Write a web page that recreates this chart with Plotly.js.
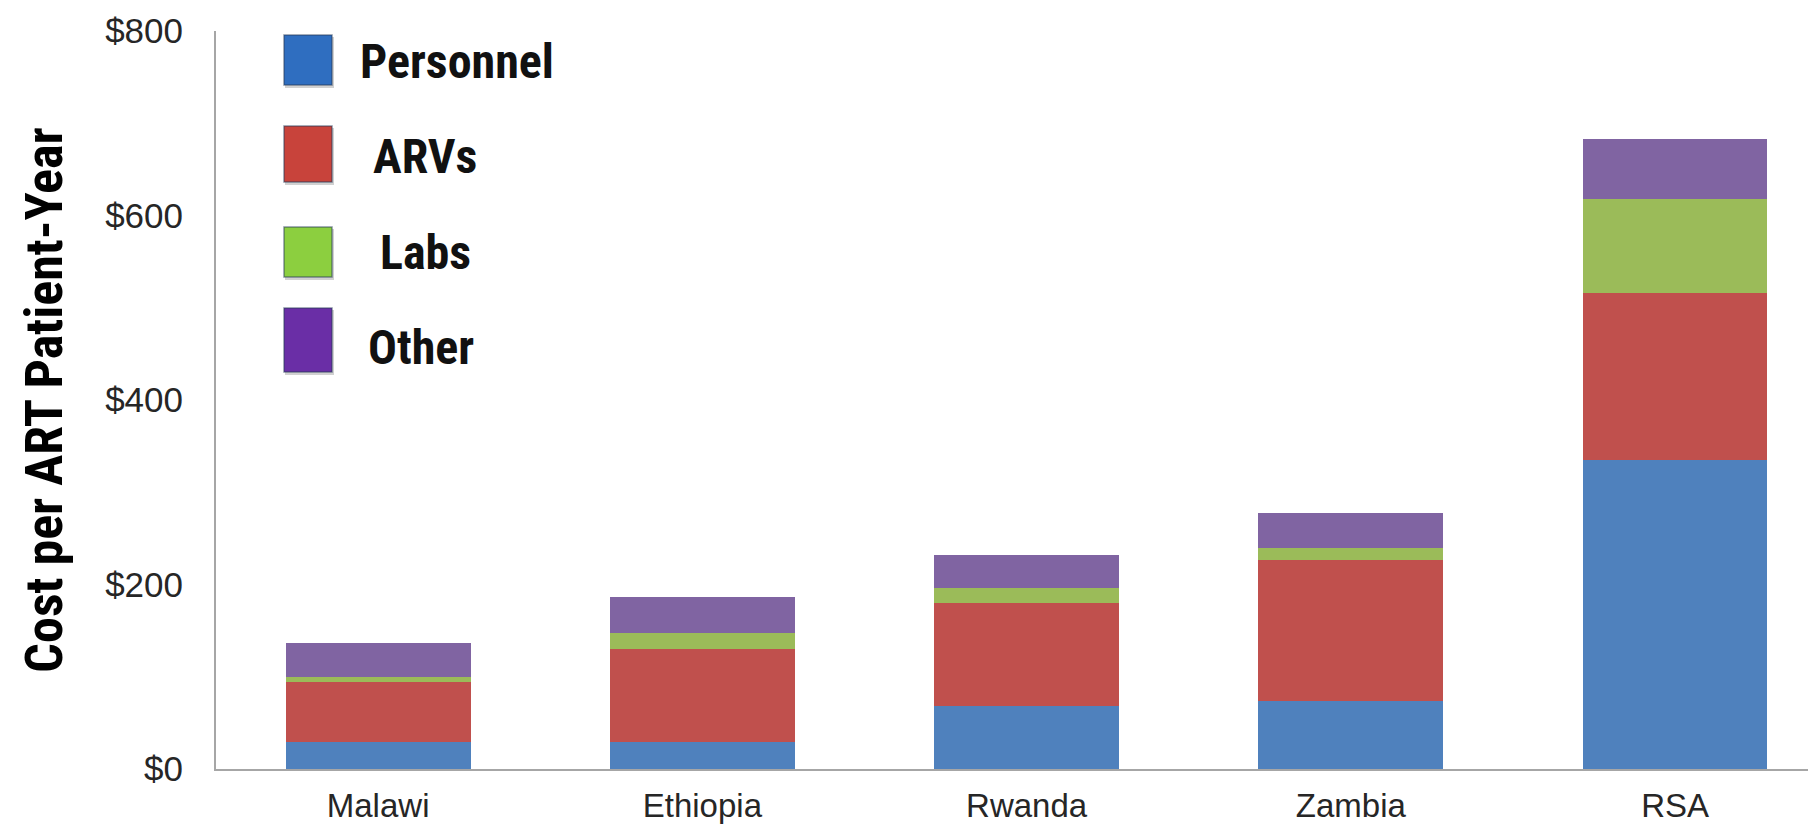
<!DOCTYPE html>
<html>
<head>
<meta charset="utf-8">
<script src="https://cdn.plot.ly/plotly-3.0.1.min.js"></script>
<style>
  html, body { margin: 0; padding: 0; background: #ffffff; }
  #chart { width: 1808px; height: 827px; }
</style>
</head>
<body>
<div id="chart"></div>
<script>
// ---- Data ----
const countries = ["Malawi", "Ethiopia", "Rwanda", "Zambia", "RSA"];
const personnel = [29, 29, 68, 74, 335];
const arvs      = [65, 101, 112, 153, 181];
const labs      = [6, 17, 16, 13, 102];
const other     = [37, 39, 36, 38, 65];
const seriesNames = ["Personnel", "ARVs", "Labs", "Other"];
const yTickVals = [0, 200, 400, 600, 800];
const yTickText = ["$0", "$200", "$400", "$600", "$800"];
const yTitle = "Cost per ART Patient-Year";

// ---- Styles ----
const barColors = ["#4F81BD", "#C0504D", "#9BBB59", "#8064A2"];
const legendColors = ["#2F6EC0", "#C8433B", "#8CCF3F", "#6A2EA6"];
const condensedBold = "'Liberation Sans Narrow', 'Roboto Condensed', 'DejaVu Sans Condensed', Roboto, sans-serif";
const tickFont = "'Liberation Sans', Arial, Helvetica, sans-serif";

const W = 1808, H = 827;
const M = { l: 216, r: 0, t: 31, b: 58 };
const plotW = W - M.l - M.r, plotH = H - M.t - M.b;
const px2x = p => (p - M.l) / plotW;
const px2y = p => (H - M.b - p) / plotH;

const values = [personnel, arvs, labs, other];
const traces = values.map((v, i) => ({
  type: "bar",
  name: seriesNames[i],
  x: countries,
  y: v,
  width: 0.57,
  marker: { color: barColors[i], line: { width: 0 } },
  hoverinfo: "x+y+name"
}));

// Legend drawn as shapes + text (legend squares differ from bar colours)
const legendBoxes = [
  { x0: 284, x1: 332, y0: 35, y1: 85, tx: 358, ty: 61 },
  { x0: 284, x1: 332, y0: 126, y1: 182, tx: 371, ty: 156 },
  { x0: 284, x1: 332, y0: 227, y1: 277, tx: 378, ty: 252 },
  { x0: 284, x1: 332, y0: 308, y1: 372, tx: 366, ty: 347 }
];
const shapes = [];
const annotations = [];
legendBoxes.forEach((b, i) => {
  shapes.push({
    type: "rect", xref: "paper", yref: "paper",
    x0: px2x(b.x0 + 1), x1: px2x(b.x1 + 2), y0: px2y(b.y1 + 3), y1: px2y(b.y0 + 2),
    fillcolor: "rgba(0,0,0,0.18)", line: { width: 0 }, layer: "above"
  });
  shapes.push({
    type: "rect", xref: "paper", yref: "paper",
    x0: px2x(b.x0), x1: px2x(b.x1), y0: px2y(b.y1), y1: px2y(b.y0),
    fillcolor: legendColors[i], line: { color: "rgba(40,60,90,0.55)", width: 1.5 }, layer: "above"
  });
  annotations.push({
    xref: "paper", yref: "paper", x: px2x(b.tx), y: px2y(b.ty),
    xanchor: "left", yanchor: "middle", showarrow: false,
    text: seriesNames[i],
    font: { family: condensedBold, size: 48, color: "#111111", weight: "bold" }
  });
});

const layout = {
  width: W, height: H,
  margin: M,
  paper_bgcolor: "#ffffff",
  plot_bgcolor: "#ffffff",
  barmode: "stack",
  showlegend: false,
  xaxis: {
    type: "category",
    range: [-0.5, 4.41],
    showgrid: false, zeroline: false,
    showline: true, linecolor: "#A6A6A6", linewidth: 2,
    ticks: "",
    tickfont: { family: tickFont, size: 33, color: "#262626" },
    ticklabelstandoff: 6,
    fixedrange: true
  },
  yaxis: {
    range: [0, 800],
    tickvals: yTickVals,
    ticktext: yTickText,
    showgrid: false, zeroline: false,
    showline: true, linecolor: "#A6A6A6", linewidth: 2,
    ticks: "",
    tickfont: { family: tickFont, size: 35, color: "#262626" },
    ticklabelstandoff: 24,
    title: {
      text: yTitle,
      font: { family: condensedBold, size: 52, color: "#000000", weight: "bold" },
      standoff: 26
    },
    fixedrange: true
  },
  shapes: shapes,
  annotations: annotations
};

Plotly.newPlot("chart", traces, layout, { displayModeBar: false });
</script>
</body>
</html>
